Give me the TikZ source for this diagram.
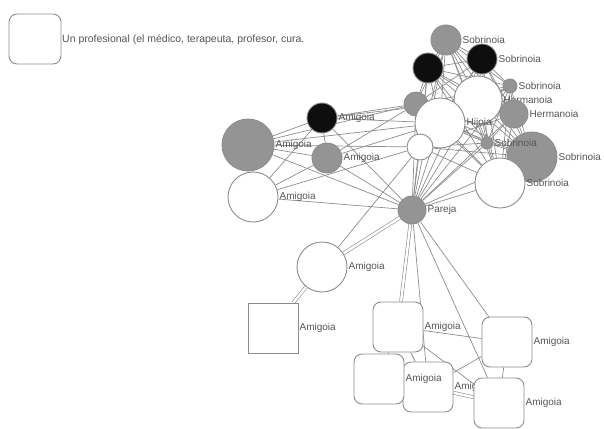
\documentclass[tikz,border=0pt]{standalone}
\usepackage{fontspec}
\setmainfont{Liberation Sans}
\usepackage{tikz}
\usetikzlibrary{backgrounds}
\definecolor{lineg}{HTML}{8C8C8C}
\definecolor{fillg}{HTML}{949494}
\definecolor{inkb}{HTML}{0E0E0E}
\definecolor{txtg}{HTML}{555555}
\tikzset{
  pers/.style={circle, draw=lineg, line width=0.9pt, fill=white, inner sep=0pt, label distance=1pt},
  rbox/.style={draw=lineg, line width=0.9pt, fill=white, rounded corners=8pt, minimum size=50pt, inner sep=0pt,
    label distance=1pt},
  sbox/.style={draw=lineg, line width=0.9pt, fill=white, minimum size=50pt, inner sep=0pt, label distance=1pt},
  lbl/.style={font=\fontsize{10}{11}\selectfont, text=txtg, inner sep=1pt},
  edge/.style={draw=lineg, line width=0.7pt},
  dedge/.style={draw=lineg, line width=0.6pt, double=white, double distance=2.4pt},
}

\begin{document}
\begin{tikzpicture}[x=1pt, y=-1pt]
  \useasboundingbox (0,0) rectangle (604,428);
  % \pers{name}{x}{y}{radius}{fill}{label}
  \newcommand{\pers}[6]{\node[pers, fill=#5, minimum size=#4*2pt, label={[lbl]right:#6}] (#1) at (#2,#3) {};}
  % ---- legend
  \node[rbox, minimum width=52pt] (leg) at (35,39) {};
  \node[lbl, anchor=west, font=\fontsize{10.5}{12}\selectfont] (legt) at (61,40)
    {Un profesional (el médico, terapeuta, profesor, cura.};
  % ---- family cluster
  \pers{s1}{446}{40}{15}{fillg}{Sobrinoia}
  \pers{s3}{428}{68}{15}{inkb}{}
  \pers{s2}{482}{59}{15}{inkb}{Sobrinoia}
  \pers{s4}{510}{86}{7}{fillg}{Sobrinoia}
  \pers{g7}{416}{104}{12}{fillg}{}
  \pers{h1}{478}{100}{24}{white}{Hermanoia}
  \pers{h2}{514}{114}{14}{fillg}{Hermanoia}
  \pers{w6}{440}{123}{25}{white}{Hijoia}
  \pers{w8}{420}{147}{13}{white}{}
  \pers{s10}{532}{157}{25}{fillg}{Sobrinoia}
  \pers{s11}{500}{183}{25}{white}{Sobrinoia}
  \pers{s9}{487}{143}{6}{fillg}{Sobrinoia}
  \pers{p}{412}{210}{14}{fillg}{Pareja}
  % ---- friends
  \pers{a13}{322}{118}{15}{inkb}{Amigoia}
  \pers{a14}{248}{145}{26}{fillg}{Amigoia}
  \pers{a15}{327}{158}{15}{fillg}{Amigoia}
  \pers{a16}{253}{197}{25}{white}{Amigoia}
  \pers{a17}{322}{267}{25}{white}{Amigoia}
  \node[sbox, label={[lbl]right:Amigoia}] (a18) at (273,328) {};
  \node[rbox, label={[lbl]right:Amigoia}] (ra) at (398,327) {};
  \node[rbox, label={[lbl]right:Amigoia}] (rb) at (507,342) {};
  \node[rbox, label={[lbl]right:Amigoia}] (rd) at (428,387) {};
  \node[rbox, label={[lbl]right:Amigoia}] (rc) at (379,379) {};
  \node[rbox, label={[lbl]right:Amigoia}] (re) at (499,403) {};
  % ---- connectors, under the nodes
  \begin{scope}[on background layer]
    \foreach \a [count=\i] in {s1,s2,s3,s4,g7,h1,h2,w6,w8,s9,s10,s11}
      \foreach \b [count=\j] in {s1,s2,s3,s4,g7,h1,h2,w6,w8,s9,s10,s11}
        {\ifnum\j>\i \draw[edge] (\a) -- (\b);\fi}
    \foreach \b in {s1,s2,s3,s4,g7,h1,h2,w6,w8,s9,s10,s11,a13,a14,a15,a16,rb,rd,re}
      \draw[edge] (p) -- (\b);
    \foreach \a/\b in {a13/a14, a13/a15, a13/a16, a14/a15, a15/a16, a13/g7, a13/w6, a13/h1, a14/g7,
      a14/w6, a14/w8, a15/w6, a15/g7, a16/w8, a17/w8,
      ra/rb, ra/rc, ra/rd, ra/re, rb/rd, rb/re, rc/rd, rc/re}
      \draw[edge] (\a) -- (\b);
    \foreach \a/\b in {a17/p, a17/a18, p/ra, rd/re}
      \draw[dedge] (\a) -- (\b);
  \end{scope}
\end{tikzpicture}
\end{document}
